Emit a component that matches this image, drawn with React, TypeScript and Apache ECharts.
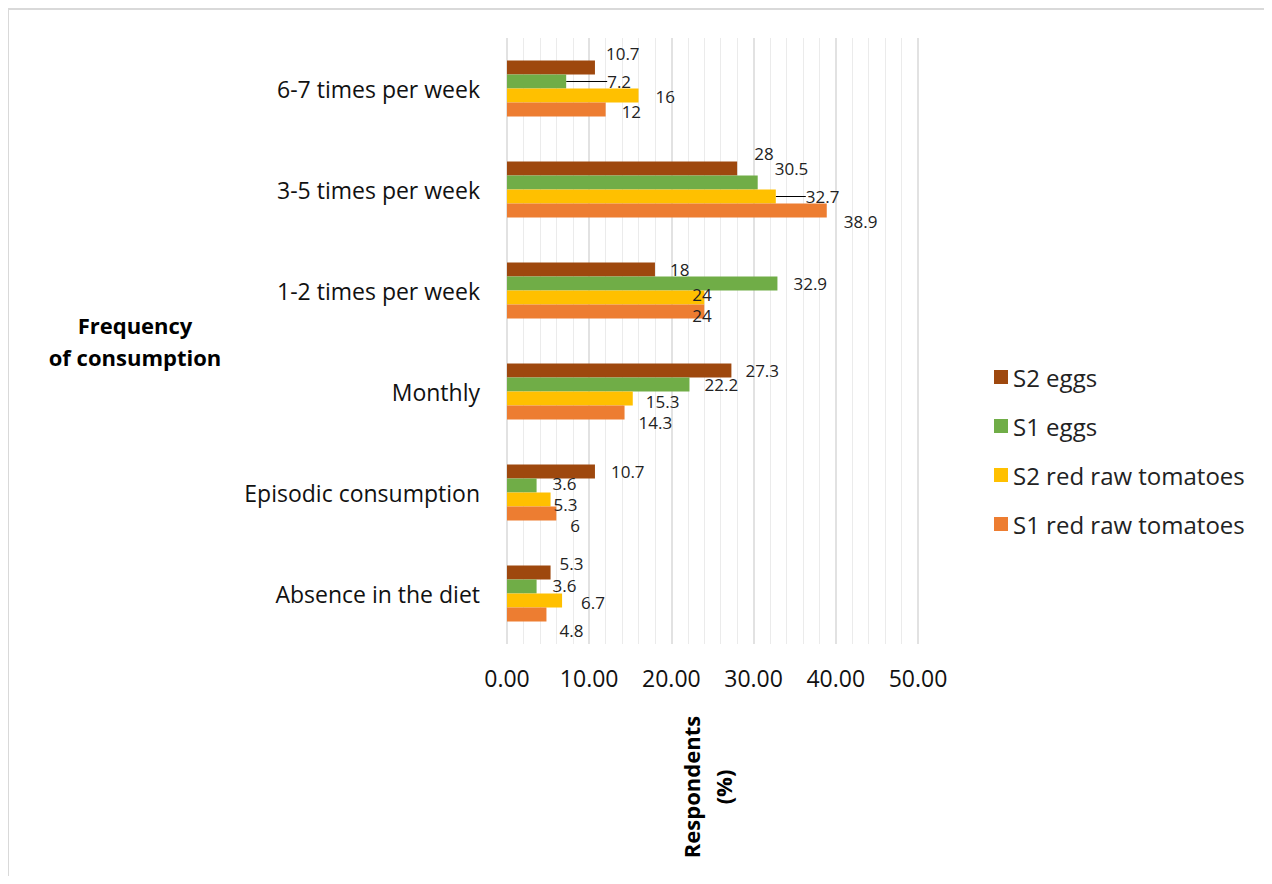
import React, { useEffect, useRef } from "react";
import * as echarts from "echarts";

const categories = [
  "6-7 times per week",
  "3-5 times per week",
  "1-2 times per week",
  "Monthly",
  "Episodic consumption",
  "Absence in the diet",
];
const seriesNames = ["S2 eggs", "S1 eggs", "S2 red raw tomatoes", "S1 red raw tomatoes"];
const s2Eggs = [10.7, 28, 18, 27.3, 10.7, 5.3];
const s1Eggs = [7.2, 30.5, 32.9, 22.2, 3.6, 3.6];
const s2Tomatoes = [16, 32.7, 24, 15.3, 5.3, 6.7];
const s1Tomatoes = [12, 38.9, 24, 14.3, 6, 4.8];
const xTicks = { min: 0, max: 50, interval: 10 };

const COLORS = ["#9E480E", "#70AD47", "#FFC000", "#ED7D31"];
// label displacement (style only) [dx, dy] per series / category
const LABEL_SHIFT: number[][][] = [
  [[11, -14], [17, -15], [15, 0], [14, 0], [16, 0], [9, -9]],
  [[41, 0], [17, -14], [16, 0], [15, 0], [16, -2], [16, -1]],
  [[17, 1], [30, 0], [-12, -3], [13, 3], [3, 5], [19, 2]],
  [[16, 2], [17, 11], [-12, 4], [14, 10], [14, 12], [13, 16]],
];
const LEADER: boolean[][] = [
  [false, false, false, false, false, false],
  [true, false, false, false, false, false],
  [false, true, false, false, false, false],
  [false, false, false, false, false, false],
];

const FONT = "Open Sans";

export default function App() {
  const ref = useRef<HTMLDivElement>(null);
  useEffect(() => {
    if (!ref.current) return;
    const chart = echarts.init(ref.current, null, { renderer: "svg" });
    const all = [s2Eggs, s1Eggs, s2Tomatoes, s1Tomatoes];
    const series = all.map((vals, si) => ({
      name: seriesNames[si],
      type: "bar",
      barGap: "0%",
      barCategoryGap: "44.5%",
      itemStyle: { color: COLORS[si] },
      label: {
        show: true,
        position: "right",
        distance: 0,
        fontFamily: FONT,
        fontSize: 17,
        lineHeight: 14,
        color: "#222",
      },
      labelLine: { show: false, lineStyle: { color: "#000", width: 1 } },
      labelLayout: (p: any) => ({
        dx: LABEL_SHIFT[p.seriesIndex][p.dataIndex][0],
        dy: LABEL_SHIFT[p.seriesIndex][p.dataIndex][1],
      }),
      data: vals.map((v, ci) =>
        LEADER[si][ci]
          ? { value: v, labelLine: { show: true, lineStyle: { color: "#000", width: 1 } } }
          : v
      ),
    }));
    chart.setOption({
      animation: false,
      textStyle: { fontFamily: FONT },
      grid: { left: 499, right: 346, top: 30, bottom: 232, containLabel: false },
      legend: {
        orient: "vertical",
        left: 986,
        top: 357,
        padding: 0,
        icon: "rect",
        itemWidth: 14,
        itemHeight: 14,
        itemGap: 25,
        data: seriesNames,
        textStyle: { fontFamily: FONT, fontSize: 24, color: "#222" },
      },
      xAxis: {
        type: "value",
        min: xTicks.min,
        max: xTicks.max,
        interval: xTicks.interval,
        axisLine: { show: false },
        axisTick: { show: false },
        axisLabel: {
          margin: 22,
          fontFamily: FONT,
          fontSize: 23,
          color: "#111",
          formatter: (v: number) => v.toFixed(2),
        },
        splitLine: { show: true, lineStyle: { color: "#d9d9d9", width: 1.5 } },
        minorTick: { show: false, splitNumber: 5 },
        minorSplitLine: { show: true, lineStyle: { color: "#ebebeb", width: 1 } },
      },
      yAxis: {
        type: "category",
        inverse: true,
        data: categories,
        axisLine: { show: false },
        axisTick: { show: false },
        axisLabel: { margin: 27, fontFamily: FONT, fontSize: 23, color: "#111" },
      },
      graphic: [
        { type: "line", shape: { x1: 0, y1: 1, x2: 1264, y2: 1 }, style: { stroke: "#d9d9d9", lineWidth: 2 } },
        { type: "line", shape: { x1: 0, y1: 0, x2: 0, y2: 880 }, style: { stroke: "#d9d9d9", lineWidth: 2 } },
        {
          type: "text",
          x: 127,
          y: 333,
          style: {
            text: "Frequency\nof consumption",
            fontFamily: FONT,
            fontWeight: "bold",
            fontSize: 22,
            lineHeight: 32,
            align: "center",
            verticalAlign: "middle",
            fill: "#000",
          },
        },
        {
          type: "text",
          x: 699,
          y: 779,
          rotation: Math.PI / 2,
          style: {
            text: "Respondents\n(%)",
            fontFamily: FONT,
            fontWeight: "bold",
            fontSize: 22,
            lineHeight: 32,
            align: "center",
            verticalAlign: "middle",
            fill: "#000",
          },
        },
      ],
      series,
    });
    return () => chart.dispose();
  }, []);
  return <div ref={ref} style={{ width: 1256, height: 868 }} />;
}
